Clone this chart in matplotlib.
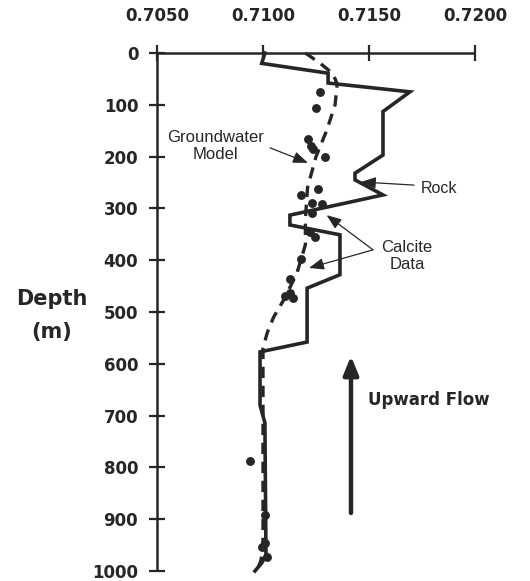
import matplotlib
matplotlib.use("Agg")
import matplotlib.pyplot as plt

plt.rcParams['font.family'] = ['Liberation Sans', 'DejaVu Sans']

# Rock 87Sr/86Sr profile (step-like), ratio vs depth (m)
rock_ratio = [0.71009, 0.70994, 0.71307, 0.71307, 0.71693, 0.71566, 0.71566,
              0.71434, 0.71434, 0.71566, 0.71127, 0.71127, 0.71363, 0.71363,
              0.71208, 0.71208, 0.70986, 0.70986, 0.71009, 0.71014, 0.70995,
              0.70962]
rock_depth = [0, 20, 39, 58, 75, 113, 197,
              232, 245, 274, 313, 332, 351, 428,
              454, 558, 577, 680, 714, 969, 984,
              1000]

# Groundwater model curve
model_ratio = [0.7120, 0.7127, 0.7133, 0.7135, 0.7134, 0.7130, 0.7125,
               0.7121, 0.7120, 0.7120, 0.7116, 0.7110, 0.7105, 0.7102,
               0.7100, 0.7100, 0.7100, 0.7100, 0.7099, 0.7097]
model_depth = [0, 20, 40, 60, 100, 150, 200,
               260, 320, 370, 425, 475, 510, 540,
               570, 700, 850, 950, 980, 1000]

# Calcite data points
calcite_ratio = [0.71269, 0.71250, 0.71212, 0.71226, 0.71235, 0.71293,
                 0.71259, 0.71179, 0.71231, 0.71278, 0.71231, 0.71222,
                 0.71245, 0.71179, 0.71127, 0.71104, 0.71127, 0.71142,
                 0.70939, 0.71009, 0.71009, 0.70995, 0.71019]
calcite_depth = [75, 107, 166, 180, 186, 201,
                 262, 275, 290, 292, 309, 345,
                 355, 397, 436, 470, 464, 473,
                 787, 892, 946, 953, 973]

x_ticks = [0.7050, 0.7100, 0.7150, 0.7200]
x_tick_labels = ['0.7050', '0.7100', '0.7150', '0.7200']
y_ticks = [0, 100, 200, 300, 400, 500, 600, 700, 800, 900, 1000]

ink = '#262626'
bold_family = ['DejaVu Sans']

fig = plt.figure(figsize=(5.30, 5.81), dpi=100)
ax = fig.add_axes([157 / 530, 1 - 571 / 581, 318 / 530, 518 / 581])

ax.plot(rock_ratio, rock_depth, color=ink, lw=2.6, solid_joinstyle='miter',
        zorder=3)
ax.plot(model_ratio, model_depth, color=ink, lw=2.4, ls=(0, (3.4, 2.3)),
        zorder=2)
ax.plot(calcite_ratio, calcite_depth, 'o', color=ink, ms=6.4, mec='none',
        zorder=4)

ax.set_xlim(0.7050, 0.7200)
ax.set_ylim(1000, 0)

for side in ('right', 'bottom'):
    ax.spines[side].set_visible(False)
for side in ('left', 'top'):
    ax.spines[side].set_linewidth(1.8)
    ax.spines[side].set_color(ink)
    ax.spines[side].set_capstyle('butt')
ax.spines['top'].set_bounds(0.7050, 0.7200)

ax.xaxis.tick_top()
ax.set_xticks(x_ticks)
ax.set_xticklabels(x_tick_labels)
ax.set_yticks(y_ticks)
ax.tick_params(axis='x', direction='inout', length=11, width=1.6,
               color=ink, pad=15, labelsize=12, labelcolor=ink)
ax.tick_params(axis='y', direction='inout', length=11, width=1.6,
               color=ink, pad=8, labelsize=12, labelcolor=ink)
for lab in ax.get_xticklabels() + ax.get_yticklabels():
    lab.set_fontweight('bold')
    lab.set_family(bold_family)

for art in ax.lines:
    art.set_clip_on(False)

# Axis title
fig.text(52 / 530, 1 - 299 / 581, 'Depth', ha='center', va='center',
         fontsize=15, fontweight='bold', color=ink, family=bold_family)
fig.text(52 / 530, 1 - 332 / 581, '(m)', ha='center', va='center',
         fontsize=15, fontweight='bold', color=ink, family=bold_family)

# Annotations
arrow_kw = dict(arrowstyle='-|>,head_length=0.9,head_width=0.35', color=ink,
                lw=0.9, shrinkA=0, shrinkB=0)
ax.text(0.70777, 180, 'Groundwater\nModel', ha='center', va='center',
        fontsize=12, color=ink, linespacing=1.2)
ax.annotate('', xy=(0.71212, 212), xytext=(0.71033, 183),
            arrowprops=arrow_kw)

ax.text(0.71830, 262, 'Rock', ha='center', va='center', fontsize=11.5,
        color=ink)
ax.annotate('', xy=(0.71462, 249), xytext=(0.71712, 255),
            arrowprops=arrow_kw)

ax.text(0.71679, 392, 'Calcite\nData', ha='center', va='center',
        fontsize=12, color=ink, linespacing=1.2)
ax.annotate('', xy=(0.71300, 313), xytext=(0.71519, 380),
            arrowprops=arrow_kw)
ax.annotate('', xy=(0.71217, 415), xytext=(0.71519, 380),
            arrowprops=arrow_kw)

# Flow direction
ax.annotate('', xy=(0.71415, 585), xytext=(0.71415, 888),
            arrowprops=dict(arrowstyle='-|>,head_length=1.1,head_width=0.45',
                            color=ink, lw=3.2, shrinkA=0, shrinkB=0))
ax.text(0.71495, 670, 'Upward Flow', ha='left', va='center', fontsize=12,
        fontweight='bold', color=ink, family=bold_family)

fig.savefig('out.png', dpi=100, facecolor='white')
